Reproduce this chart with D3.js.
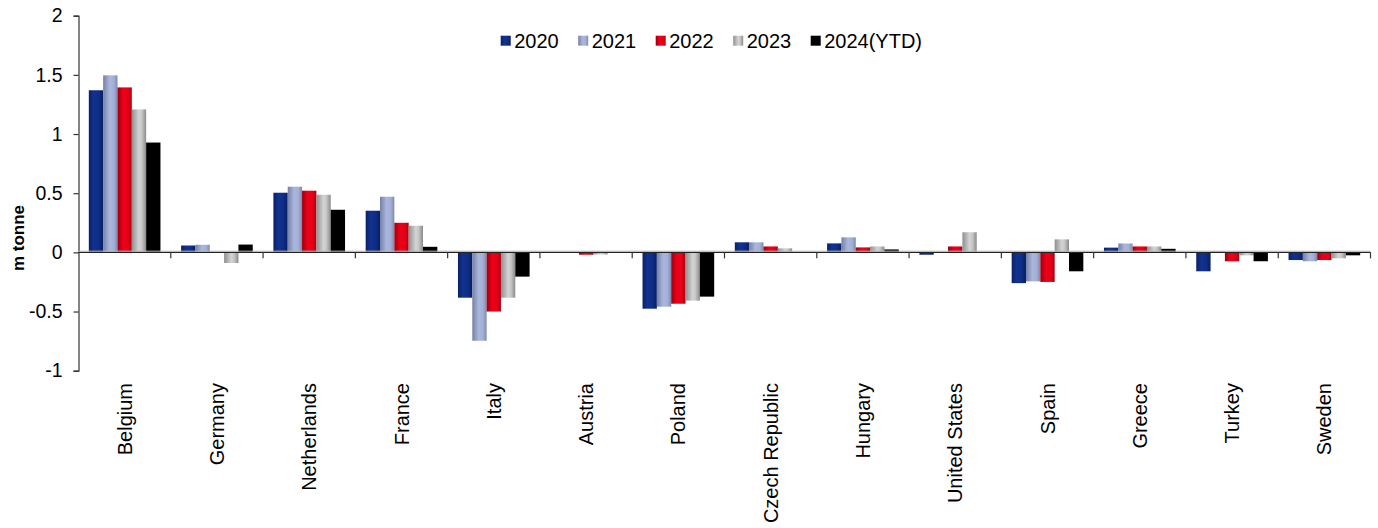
<!DOCTYPE html>
<html>
<head>
<meta charset="utf-8">
<script src="https://cdn.jsdelivr.net/npm/d3@7"></script>
<style>
  html, body { margin: 0; padding: 0; background: #fff; }
  svg { display: block; font-family: "Liberation Sans", Arial, sans-serif; }
</style>
</head>
<body>
<svg id="chart" width="1378" height="528"></svg>
<script>
// Net trade by country, m tonne
const categories = ["Belgium", "Germany", "Netherlands", "France", "Italy", "Austria", "Poland",
  "Czech Republic", "Hungary", "United States", "Spain", "Greece", "Turkey", "Sweden"];
const years = ["2020", "2021", "2022", "2023", "2024(YTD)"];

const v2020 = [1.37, 0.058, 0.504, 0.352, -0.383, -0.005, -0.476, 0.085, 0.076, -0.02, -0.26, 0.04, -0.16, -0.065];
const v2021 = [1.496, 0.064, 0.555, 0.47, -0.747, -0.005, -0.459, 0.085, 0.127, 0.0, -0.245, 0.075, 0.01, -0.075];
const v2022 = [1.394, 0.0, 0.521, 0.25, -0.50, -0.02, -0.434, 0.05, 0.042, 0.05, -0.25, 0.05, -0.075, -0.065];
const v2023 = [1.208, -0.09, 0.487, 0.225, -0.383, -0.018, -0.408, 0.034, 0.05, 0.17, 0.11, 0.05, -0.025, -0.05];
const v2024 = [0.928, 0.066, 0.36, 0.047, -0.205, 0.0, -0.374, 0.0, 0.025, 0.0, -0.16, 0.03, -0.075, -0.025];

const yTicks = [2, 1.5, 1, 0.5, 0, -0.5, -1];
const yTitle = "m tonne";

const seriesValues = [v2020, v2021, v2022, v2023, v2024];

const svg = d3.select("#chart");

// Horizontal shading for each series
const shades = [
  [["0%", "#0a2168"], ["35%", "#11328f"], ["70%", "#0e2d86"], ["100%", "#091e62"]],
  [["0%", "#7580a6"], ["45%", "#aab6dc"], ["75%", "#a3afd6"], ["100%", "#7d88ac"]],
  [["0%", "#9c0010"], ["40%", "#ee0018"], ["75%", "#e40016"], ["100%", "#a80012"]],
  [["0%", "#8f8f8f"], ["50%", "#d4d4d4"], ["70%", "#c6c6c6"], ["100%", "#8a8a8a"]],
  [["0%", "#000000"], ["100%", "#000000"]]
];
const defs = svg.append("defs");
shades.forEach((stops, i) => {
  const g = defs.append("linearGradient").attr("id", "shade" + i)
    .attr("x1", "0%").attr("x2", "100%").attr("y1", "0%").attr("y2", "0%");
  stops.forEach(s => g.append("stop").attr("offset", s[0]).attr("stop-color", s[1]));
});

const plot = { left: 78.5, right: 1370.5, top: 15.7, bottom: 370.7 };

const y = d3.scaleLinear().domain([-1, 2]).range([plot.bottom, plot.top]);
const x0 = d3.scaleBand().domain(categories).range([plot.left, plot.right]).paddingInner(0).paddingOuter(0);
const x1 = d3.scaleBand().domain(years).range([0, x0.bandwidth()]).paddingInner(0).paddingOuter(0.72);

// Bars
const groups = svg.append("g").selectAll("g")
  .data(categories)
  .join("g")
  .attr("transform", d => `translate(${x0(d)},0)`);

groups.selectAll("rect")
  .data((c, ci) => years.map((yr, si) => ({ yr, si, v: seriesValues[si][ci] })))
  .join("rect")
  .attr("x", d => x1(d.yr))
  .attr("width", x1.bandwidth())
  .attr("y", d => y(Math.max(0, d.v)))
  .attr("height", d => Math.abs(y(d.v) - y(0)))
  .attr("fill", d => `url(#shade${d.si})`);

// Y axis
const yAxis = d3.axisLeft(y).tickValues(yTicks).tickSize(5).tickPadding(11)
  .tickFormat(d => String(d));
const gy = svg.append("g").attr("transform", `translate(${plot.left},0)`).call(yAxis);
gy.select(".domain").attr("stroke", "#333").attr("stroke-width", 1.2);
gy.selectAll(".tick line").attr("stroke", "#333").attr("stroke-width", 1.2);
gy.selectAll(".tick text").attr("font-size", 19.5).attr("fill", "#000")
  .attr("font-family", "Liberation Sans, Arial, sans-serif");

// X axis along zero, with ticks between categories
const gx = svg.append("g");
gx.append("line")
  .attr("x1", plot.left).attr("x2", plot.right)
  .attr("y1", y(0)).attr("y2", y(0))
  .attr("stroke", "#222").attr("stroke-width", 1.4);
gx.append("line")
  .attr("x1", plot.left).attr("x2", plot.right)
  .attr("y1", y(0) - 1.2).attr("y2", y(0) - 1.2)
  .attr("stroke", "#bbb").attr("stroke-width", 1);
const boundaries = categories.map(c => x0(c)).concat([x0(categories[categories.length - 1]) + x0.bandwidth()]);
gx.selectAll("line.tk")
  .data(boundaries.slice(1))
  .join("line")
  .attr("class", "tk")
  .attr("x1", d => d).attr("x2", d => d)
  .attr("y1", y(0)).attr("y2", y(0) + 6)
  .attr("stroke", "#333").attr("stroke-width", 1.2);

// Category labels, rotated
svg.append("g").selectAll("text")
  .data(categories)
  .join("text")
  .attr("transform", d => `translate(${x0(d) + x0.bandwidth() / 2 + 7},383) rotate(-90)`)
  .attr("text-anchor", "end")
  .attr("font-size", 20)
  .attr("fill", "#000")
  .text(d => d);

// Y axis title
svg.append("text")
  .attr("transform", `translate(24,238) rotate(-90)`)
  .attr("text-anchor", "middle")
  .attr("font-size", 17)
  .attr("font-weight", "bold")
  .attr("fill", "#000")
  .text(yTitle);

// Legend
const legend = svg.append("g");
let lx = 500.7;
years.forEach((yr, i) => {
  legend.append("rect")
    .attr("x", lx).attr("y", 35.7).attr("width", 10).attr("height", 10)
    .attr("fill", `url(#shade${i})`);
  const t = legend.append("text")
    .attr("x", lx + 13.5).attr("y", 47.5)
    .attr("font-size", 20).attr("fill", "#000")
    .text(yr);
  lx += 13.5 + t.node().getComputedTextLength() + 19.5;
});
</script>
</body>
</html>
